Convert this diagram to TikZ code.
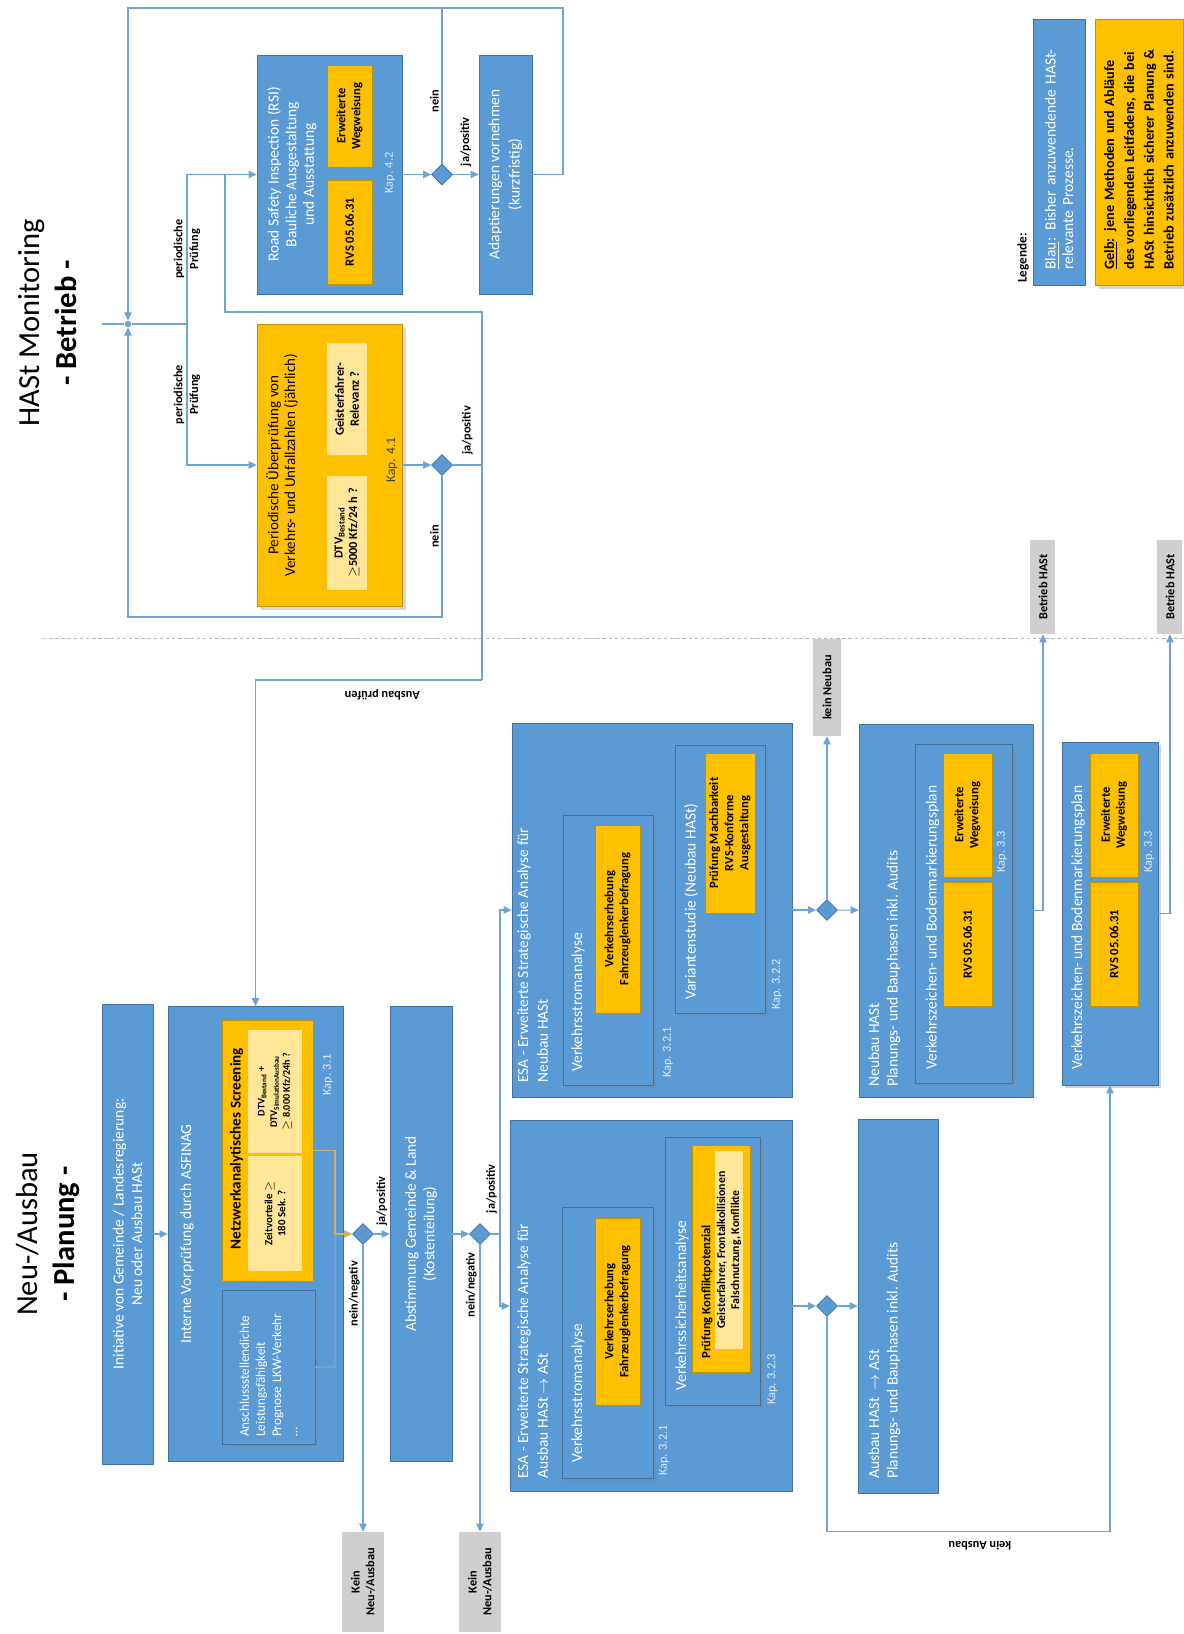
\documentclass[tikz,border=0pt]{standalone}
\usepackage{fontspec}
\setmainfont{Carlito}
\usepackage{tikz}
\usetikzlibrary{arrows.meta,positioning,shapes.geometric,shadows}
\definecolor{hastblau}{HTML}{5B9BD5}
\definecolor{hastrand}{HTML}{41719C}
\definecolor{hastgelb}{HTML}{FFC000}
\definecolor{gelbrand}{HTML}{BF9000}
\definecolor{hellgelb}{HTML}{FFE699}
\definecolor{hastgrau}{HTML}{D0CECE}
\definecolor{strich}{HTML}{6FA3D8}
\definecolor{oliv}{HTML}{C8B45A}
\tikzset{
  blau/.style={draw=hastrand, fill=hastblau, text=white, align=center, inner sep=0pt, font=\fontsize{8.8}{10.5}\selectfont},
  innen/.style={blau, drop shadow={shadow xshift=0.6mm, shadow yshift=-0.6mm, opacity=0.35}},
  schatten/.style={drop shadow={shadow xshift=0.8mm, shadow yshift=-0.8mm, opacity=0.3}},
  gelb/.style={draw=gelbrand, fill=hastgelb, text=black, align=center, inner sep=0pt, font=\bfseries\fontsize{7.2}{8.6}\selectfont},
  hell/.style={fill=hellgelb, draw=none, text=black, align=center, inner sep=0pt, font=\bfseries\fontsize{6.2}{7.4}\selectfont},
  grau/.style={fill=hastgrau, draw=none, align=center, inner sep=0pt, font=\bfseries\fontsize{7}{8.4}\selectfont},
  raute/.style={diamond, draw=hastrand, fill=hastblau, minimum width=0.42cm, minimum height=0.42cm, inner sep=0pt},
  titel/.style={text=white, align=left, inner sep=0pt, font=\fontsize{8.8}{11.3}\selectfont},
  weiss/.style={text=white, align=center, inner sep=0pt, font=\fontsize{8.8}{10}\selectfont},
  kap/.style={text=white!80!hastblau, inner sep=0pt, font=\fontsize{7}{8}\selectfont},
  lbl/.style={text=black, inner sep=1.5pt, font=\bfseries\fontsize{7}{8.4}\selectfont},
  grosstitel/.style={align=center, inner sep=0pt, font=\fontsize{17.4}{21}\selectfont},
  verbinder/.style={draw=strich, line width=0.6pt},
  pfeil/.style={verbinder, -{Triangle[length=1.6mm, width=1.5mm]}},
  gelbpfeil/.style={pfeil, draw=oliv},
  trenn/.style={draw=gray!55, line width=0.4pt, dash pattern=on 2pt off 1.5pt}
}
\begin{document}
\begin{tikzpicture}[x=0.02cm,y=0.02cm,rotate=90,transform shape]
  \path[use as bounding box, fill=white] (0,0) rectangle (1634,1184);

  \node[grosstitel] (titelplanung) at (400,1136) {Neu-/Ausbau\\\textbf{- Planung -}};
  \node[blau, minimum width=9.2cm, minimum height=1.02cm] (initiative) at (400,1056.5) {Initiative von Gemeinde / Landesregierung:\\Neu oder Ausbau HASt};
  \node[blau, minimum width=9.1cm, minimum height=3.5cm] (interne) at (400,928.5) {};
  \node[titel, align=center] (internetitel) at (400,997) {Interne Vorprüfung durch ASFINAG};
  \node[innen, minimum width=3.08cm, minimum height=1.86cm, text width=2.8cm, align=left, font=\fontsize{7.5}{9.2}\selectfont] (anschluss) at (267,915.5) {Anschlussstellendichte\\Leistungsfähigkeit\\Prognose LKW-Verkehr\\\ldots};
  \node[gelb, minimum width=5.22cm, minimum height=1.82cm] (screening) at (483.5,916.5) {};
  \node[inner sep=0pt, font=\bfseries\fontsize{8.6}{10}\selectfont] (screeningtitel) at (485.5,947.5) {Netzwerkanalytisches Screening};
  \node[hell, minimum width=2.46cm, minimum height=1.08cm, font=\bfseries\fontsize{5.8}{7.2}\selectfont] (dtv) at (542.5,909) {DTV\textsubscript{Bestand} +\\DTV\textsubscript{SimulationAusbau}\\$\geq$ 8.000 Kfz/24h ?};
  \node[hell, minimum width=2.3cm, minimum height=1.08cm] (zeit) at (420.5,909) {Zeitvorteile $\geq$\\180 Sek. ?};
  \node[kap] (kap31) at (559,856) {Kap. 3.1};
  \coordinate (zusammen) at (400,849);
  \node[raute] (ent1) at (400,821) {};
  \node[blau, minimum width=9.1cm, minimum height=1.24cm] (abstimmung) at (400,763) {Abstimmung Gemeinde \& Land\\(Kostenteilung)};
  \node[grau, minimum width=2cm, minimum height=0.84cm] (kein1) at (52,821) {Kein\\Neu-/Ausbau};
  \node[raute] (ent2) at (400,704) {};
  \node[grau, minimum width=2cm, minimum height=0.84cm] (kein2) at (52,704) {Kein\\Neu-/Ausbau};
  \coordinate (verzweig) at (400,684);
  \node[lbl, anchor=south west] (ja2) at (418,684) {ja/positiv};

  \node[blau, minimum width=7.42cm, minimum height=5.64cm] (esaausbau) at (328,533) {};
  \node[titel, anchor=north west] (esaausbautitel) at (155,667) {ESA - Erweiterte Strategische Analyse für\\Ausbau HASt $\rightarrow$ ASt};
  \node[innen, minimum width=5.42cm, minimum height=1.82cm] (stromausbau) at (291.5,576.5) {};
  \node[titel, anchor=west] (stromausbautitel) at (171,606) {Verkehrsstromanalyse};
  \node[gelb, minimum width=3.74cm, minimum height=0.9cm] (erhebungausbau) at (322.5,566.5) {Verkehrserhebung\\Fahrzeuglenkerbefragung};
  \node[kap, anchor=west] (kap321a) at (158,520) {Kap. 3.2.1};
  \node[innen, minimum width=5.36cm, minimum height=1.9cm] (sicherheit) at (363,471.5) {};
  \node[titel, anchor=west] (sicherheittitel) at (243,502) {Verkehrssicherheitsanalyse};
  \node[gelb, minimum width=4.54cm, minimum height=1.16cm] (konflikt) at (375.5,463) {};
  \node[anchor=west, inner sep=0pt, font=\bfseries\fontsize{7.2}{8.6}\selectfont] (konflikttitel) at (275,477) {Prüfung Konfliktpotenzial};
  \node[hell, minimum width=3.96cm, minimum height=0.56cm, font=\bfseries\fontsize{6.7}{7.9}\selectfont] (geisterausbau) at (384,455) {Geisterfahrer, Frontalkollisionen\\Falschnutzung, Konflikte};
  \node[kap, anchor=west] (kap323) at (229,411.5) {Kap. 3.2.3};

  \node[blau, minimum width=7.48cm, minimum height=5.6cm] (esaneubau) at (724,532) {};
  \node[titel, anchor=north west] (esaneubautitel) at (551,667) {ESA - Erweiterte Strategische Analyse für\\Neubau HASt};
  \node[innen, minimum width=5.4cm, minimum height=1.8cm] (stromneubau) at (684,576) {};
  \node[titel, anchor=west] (stromneubautitel) at (562,606) {Verkehrsstromanalyse};
  \node[gelb, minimum width=3.76cm, minimum height=0.9cm] (erhebungneubau) at (715,566.5) {Verkehrserhebung\\Fahrzeuglenkerbefragung};
  \node[kap, anchor=west] (kap321b) at (556,516) {Kap. 3.2.1};
  \node[innen, minimum width=5.36cm, minimum height=1.8cm] (variante) at (755,464) {};
  \node[titel, anchor=west] (variantetitel) at (634,493) {Variantenstudie (Neubau HASt)};
  \node[gelb, minimum width=3.2cm, minimum height=1.0cm] (machbar) at (801,454) {Prüfung Machbarkeit\\RVS-Konforme\\Ausgestaltung};
  \node[kap, anchor=west] (kap322) at (624,407) {Kap. 3.2.2};

  \node[raute] (ent3) at (328,357) {};
  \node[raute] (ent4) at (724,357) {};
  \node[blau, minimum width=7.48cm, minimum height=1.6cm] (ausbau) at (328,286) {};
  \node[titel, anchor=north west, font=\fontsize{8.8}{10.5}\selectfont] (ausbautitel) at (155,316) {Ausbau HASt \ $\rightarrow$ ASt\\Planungs- und Bauphasen inkl. Audits};
  \node[grau, minimum width=1.94cm, minimum height=0.56cm] (keinneubau) at (946.5,357) {kein Neubau};
  \node[blau, minimum width=7.46cm, minimum height=3.48cm] (neubau) at (723.5,238) {};
  \node[titel, anchor=north west, font=\fontsize{8.8}{10.5}\selectfont] (neubautitel) at (547,316) {Neubau HASt\\Planungs- und Bauphasen inkl. Audits};
  \node[innen, minimum width=6.78cm, minimum height=1.94cm] (vzplaneins) at (720.5,220.5) {};
  \node[titel, anchor=west] (vzplaneinstitel) at (564,251.5) {Verkehrszeichen- und Bodenmarkierungsplan};
  \node[gelb, minimum width=2.48cm, minimum height=0.98cm] (rvseins) at (690,216.5) {RVS 05.06.31};
  \node[gelb, minimum width=2.48cm, minimum height=0.98cm] (wegweiseins) at (819,216.5) {Erweiterte\\Wegweisung};
  \node[kap] (kap33a) at (782,182) {Kap. 3.3};
  \node[innen, minimum width=6.86cm, minimum height=1.92cm] (vzplanzwei) at (720.5,74) {};
  \node[titel, anchor=west] (vzplanzweititel) at (564,106) {Verkehrszeichen- und Bodenmarkierungsplan};
  \node[gelb, minimum width=2.48cm, minimum height=0.96cm] (rvszwei) at (690,70) {RVS 05.06.31};
  \node[gelb, minimum width=2.48cm, minimum height=0.96cm] (wegweiszwei) at (819,70) {Erweiterte\\Wegweisung};
  \node[kap] (kap33b) at (782,35) {Kap. 3.3};
  \node[grau, minimum width=1.88cm, minimum height=0.5cm] (betriebeins) at (1047,141) {Betrieb HASt};
  \node[grau, minimum width=1.88cm, minimum height=0.5cm] (betriebzwei) at (1047,14) {Betrieb HASt};

  \draw[trenn] (996,0) -- (996,1144);

  \node[grosstitel] (titelbetrieb) at (1311,1136) {HASt Monitoring\\\textbf{- Betrieb -}};
  \node[circle, fill=strich, inner sep=0pt, minimum size=0.13cm] (punkt) at (1310,1056) {};
  \coordinate (einstieg) at (1310,1082);
  \coordinate (gabel) at (1310,997);
  \node[blau, minimum width=4.78cm, minimum height=2.9cm] (rsi) at (1459.5,854.5) {};
  \node[weiss, font=\fontsize{8.8}{10}\selectfont] (rsitext) at (1459.5,892) {Road Safety Inspection (RSI)\\Bauliche Ausgestaltung\\und Ausstattung};
  \node[gelb, minimum width=2.08cm, minimum height=0.9cm] (rvsdrei) at (1402,834.5) {RVS 05.06.31};
  \node[gelb, minimum width=2.04cm, minimum height=0.9cm] (wegweisdrei) at (1518,834.5) {Erweiterte\\Wegweisung};
  \node[kap] (kap42) at (1461,794) {Kap. 4.2};
  \node[gelb, schatten, minimum width=5.64cm, minimum height=2.9cm] (periodisch) at (1169,854.5) {};
  \node[align=center, inner sep=0pt, font=\fontsize{8.6}{9.6}\selectfont] (periodischtext) at (1169,902) {Periodische Überprüfung von\\Verkehrs- und Unfallzahlen (jährlich)};
  \node[hell, minimum width=2.28cm, minimum height=0.8cm, font=\bfseries\fontsize{7}{8.2}\selectfont] (dtvbestand) at (1101,837) {DTV\textsubscript{Bestand}\\$\geq$5000 Kfz/24 h ?};
  \node[hell, minimum width=2.24cm, minimum height=0.8cm, font=\bfseries\fontsize{7.2}{8.4}\selectfont] (geistermon) at (1235,837) {Geisterfahrer-\\Relevanz ?};
  \node[kap, text=black!75, font=\fontsize{7.6}{8}\selectfont] (kap41) at (1174,792) {Kap. 4.1};
  \node[raute] (entmeins) at (1169,742) {};
  \node[raute] (entmzwei) at (1459.5,742) {};
  \node[blau, minimum width=4.78cm, minimum height=1.06cm, font=\fontsize{8.8}{11.5}\selectfont] (adapt) at (1459.5,678.5) {Adaptierungen vornehmen\\(kurzfristig)};
  \coordinate (rueckrechts) at (1626,621);
  \coordinate (neinrechts) at (1626,742);
  \coordinate (rueckliks) at (1017,742);
  \coordinate (jaeck) at (1169,702);
  \coordinate (ausbaueck) at (954,702);
  \coordinate (rsieck) at (1322,702);
  \coordinate (rsiein) at (1459.5,959);

  \node[inner sep=0pt, anchor=west, font=\bfseries\fontsize{7.5}{9}\selectfont] (legende) at (1351,161) {Legende:};
  \node[blau, minimum width=5.32cm, minimum height=1.04cm, text width=4.7cm, align=left, font=\fontsize{8.8}{10}\selectfont] (legblau) at (1482,125) {\underline{Blau}: Bisher anzuwendende HASt-\\relevante Prozesse.};
  \node[gelb, schatten, minimum width=5.32cm, minimum height=1.76cm, text width=4.7cm, align=left, font=\bfseries\fontsize{8.1}{11.3}\selectfont] (leggelb) at (1482,45) {\underline{Gelb}: jene Methoden und Abläufe\\des vorliegenden Leitfadens, die bei\\HASt hinsichtlich sicherer Planung \&\\Betrieb zusätzlich anzuwenden sind.};

  \draw[pfeil] (initiative) -- (interne);
  \draw[verbinder] (anschluss.south) |- (zusammen);
  \draw[gelbpfeil] (screening.south) |- (zusammen) -- (ent1.north);
  \draw[pfeil] (ent1) -- node[lbl, right=3pt] {ja/positiv} (abstimmung);
  \draw[pfeil] (ent1) -- node[lbl, above, pos=0.17] {nein/negativ} (kein1);
  \draw[pfeil] (abstimmung) -- (ent2);
  \draw[pfeil] (ent2) -- node[lbl, above, pos=0.14] {nein/negativ} (kein2);
  \draw[verbinder] (ent2.south) -- (verzweig);
  \draw[pfeil] (verzweig) -| (esaausbau.north);
  \draw[pfeil] (verzweig) -| (esaneubau.north);
  \draw[pfeil] (esaausbau) -- (ent3);
  \draw[pfeil] (ent3) -- (ausbau);
  \draw[pfeil] (ent3.west) -- (ent3.west -| kein2.east) |- node[lbl, rotate=90, anchor=south, pos=0.27, inner sep=5pt] {kein Ausbau} (vzplanzwei.west);
  \draw[pfeil] (esaneubau) -- (ent4);
  \draw[pfeil] (ent4) -- (neubau);
  \draw[pfeil] (ent4) -- (keinneubau);
  \draw[pfeil] (neubau.south) |- (betriebeins.west);
  \draw[pfeil] (vzplanzwei.south) |- (betriebzwei.west);

  \draw[verbinder] (einstieg) -- (punkt);
  \draw[verbinder] (punkt) -- (gabel);
  \draw[pfeil] (gabel) -| node[lbl, align=center, pos=0.25, font=\bfseries\fontsize{7}{9}\selectfont] {periodische\\Prüfung} (rsi.north);
  \draw[pfeil] (gabel) -| node[lbl, align=center, pos=0.25, font=\bfseries\fontsize{7}{9}\selectfont] {periodische\\Prüfung} (periodisch.north);
  \draw[pfeil] (periodisch) -- (entmeins);
  \draw[pfeil] (rsi) -- (entmzwei);
  \draw[pfeil] (entmeins.west) -- node[lbl, above, pos=0.43] {nein} (rueckliks) |- (punkt);
  \draw[verbinder] (entmeins.south) -- node[lbl, right=4pt] {ja/positiv} (jaeck);
  \draw[verbinder] (ausbaueck) -- (rsieck) |- (rsiein);
  \draw[pfeil] (ausbaueck) |- node[lbl, rotate=90, anchor=south, pos=0.22, inner sep=5pt] {Ausbau prüfen} (interne.east);
  \draw[pfeil] (entmzwei) -- node[lbl, right=3pt] {ja/positiv} (adapt);
  \draw[verbinder] (entmzwei.east) -- node[lbl, above, pos=0.4] {nein} (neinrechts);
  \draw[pfeil] (adapt.south) |- (rueckrechts) |- (punkt);
\end{tikzpicture}
\end{document}
